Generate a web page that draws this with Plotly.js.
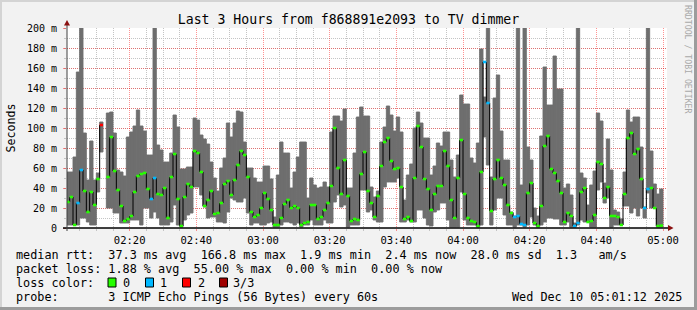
<!DOCTYPE html>
<html>
<head>
<meta charset="utf-8">
<script src="https://cdn.plot.ly/plotly-3.0.1.min.js"></script>
<style>
html,body{margin:0;padding:0;background:#f2f2f2;}
#chart{width:697px;height:310px;}
</style>
</head>
<body>
<div id="chart"></div>
<script>
// ---- data (one value per minute, 02:01 .. 05:00) ----
const medianRtt = [
 26,31,3,25,58,37,16,36,23,49,103,null,51,91,57,38,22,7,9,12,36,52,54,55,39,29,50,34,33,40,
 10,51,74,29,2,31,44,41,77,75,56,22,28,37,14,15,25,44,47,33,48,63,77,73,51,16,11,13,20,35,
 29,18,3,3,10,24,28,20,22,20,3,5,6,23,23,9,11,18,25,42,100,60,34,68,32,7,9,8,54,76,
 37,25,11,32,62,86,90,67,59,60,41,9,11,7,50,102,81,49,39,18,34,42,42,77,62,28,10,50,88,34,
 10,7,6,1.9,56,166,125,17,49,68,50,43,23,15,11,12,4,3,35,45,5,2,22,82,92,59,55,47,35,6,
 15,12,2,5,36,40,6,7,13,66,64,30,41,12,12,11,3,34,90,95,74,79,49,20,39,40,20,2,2.4,null
];
const maxRtt = [
 56,56,71,156,230,95,48,87,48,55,106,null,115,116,95,58,56,52,91,96,102,118,102,97,73,73,230,83,78,66,
 66,75,113,101,59,59,61,61,110,108,93,89,84,66,50,37,60,70,105,91,105,117,116,86,60,60,50,46,46,62,
 62,49,11,53,86,75,75,40,56,71,86,86,30,50,43,40,41,46,41,96,112,112,107,119,40,40,75,111,121,112,
 112,41,31,37,86,101,122,113,97,111,96,28,53,64,100,116,105,90,90,53,62,85,82,96,96,68,51,73,133,124,
 124,70,65,85,179,131,230,51,130,153,97,68,68,16,12,230,43,230,81,68,20,12,92,161,123,123,172,139,139,40,
 44,33,5,230,55,50,23,43,57,115,107,45,89,58,18,16,9,56,118,106,111,111,81,21,230,77,44,34,39,null
];
const minRtt = [
 3,3,3,3,10,10,6,3,3,36,76,null,20,20,15,15,5,5,5,8,8,8,3,20,20,10,16,10,3,3,
 3,6,23,3,1,8,13,15,41,41,33,21,10,11,11,6,6,5,16,30,28,26,26,30,15,3,5,5,3,3,
 5,6,1,1,3,6,6,5,3,5,1,3,3,8,3,3,3,8,5,5,26,33,21,23,1,3,3,3,38,38,
 16,18,8,6,6,41,46,46,46,50,6,6,8,6,6,18,18,10,3,2,16,18,25,25,8,1,1,1,36,8,
 3,3,3,1,3,91,63,3,18,30,30,13,3,3,1,3,3,1,3,11,3,1,3,6,10,10,9,9,3,3,
 6,1,1,3,8,6,6,1,1,38,46,25,30,1,3,3,3,22,22,15,20,12,20,10,35,20,20,1,1,null
];
// lost pings (of 3) per minute
const lostPings = [
 0,0,0,1,1,0,0,0,0,0,2,0,0,0,0,0,0,0,0,0,0,0,0,0,0,1,1,0,0,0,
 0,0,0,0,0,0,0,0,0,0,0,0,0,0,0,0,0,0,0,0,0,0,0,0,0,0,0,0,0,0,
 0,0,0,0,0,0,0,0,0,0,0,0,0,0,0,0,0,0,0,0,0,0,0,0,0,0,0,0,0,0,
 0,0,0,0,0,0,0,0,0,0,0,0,0,0,0,0,0,0,0,0,0,0,0,0,0,0,0,0,0,0,
 0,0,0,0,0,1,1,0,0,0,0,0,0,0,1,1,1,1,0,0,0,0,0,0,0,0,0,0,0,0,
 0,0,1,1,0,0,0,0,0,0,0,0,0,0,0,0,0,0,0,0,0,0,0,1,1,0,0,0,0,0
];
const yTickVals = [0,20,40,60,80,100,120,140,160,180,200];
const yTickText = ['0','20 m','40 m','60 m','80 m','100 m','120 m','140 m','160 m','180 m','200 m'];
const lossLabels = ['0','1','2','3/3'];
const lossColors = ['#26ff00','#00b8ff','#ff0000','#a00000'];
const titleText = 'Last 3 Hours from f868891e2093 to TV dimmer';
const statLines = [
 'median rtt:  37.3 ms avg  166.8 ms max  1.9 ms min  2.4 ms now  28.0 ms sd  1.3   am/s',
 'packet loss: 1.88 % avg  55.00 % max  0.00 % min  0.00 % now'
];
const probeText = 'probe:       3 ICMP Echo Pings (56 Bytes) every 60s';
const stampText = 'Wed Dec 10 05:01:12 2025';

// ---- time grid ----
const STEP = 60000;
const t0 = Date.UTC(2025,11,10,2,1,0);
const rangeStart = Date.UTC(2025,11,10,2,1,12);
const rangeEnd = Date.UTC(2025,11,10,5,1,12);
const n = medianRtt.length;
const centers = [], lefts = [], rights = [];
for (let i=0;i<n;i++){ lefts.push(t0+i*STEP); rights.push(t0+(i+1)*STEP); centers.push(t0+i*STEP+STEP/2); }

const FONT = 'DejaVu Sans Mono, monospace';
const SMOKE = '#6e6e6e';
const traces = [];

// smoke
traces.push({
  type:'bar', x:centers, base:minRtt,
  y:maxRtt.map((v,i)=> v==null||minRtt[i]==null ? null : v-minRtt[i]),
  width:centers.map(()=>STEP),
  marker:{color:SMOKE, line:{width:0.9, color:SMOKE}},
  hoverinfo:'skip', showlegend:false
});

// black vertical connectors between consecutive medians
const vx=[], vy=[];
for (let i=0;i<n-1;i++){
  if (medianRtt[i]!=null && medianRtt[i+1]!=null){
    vx.push(rights[i], rights[i], null);
    vy.push(medianRtt[i], medianRtt[i+1], null);
  }
}
traces.push({type:'scatter', mode:'lines', x:vx, y:vy, line:{color:'#000', width:1}, hoverinfo:'skip', showlegend:false, connectgaps:false});

// coloured median markers by loss
for (let L=0; L<3; L++){
  const sx=[], sy=[];
  for (let i=0;i<n;i++){
    if (medianRtt[i]!=null && lostPings[i]===L){
      sx.push(lefts[i], rights[i], null);
      sy.push(medianRtt[i], medianRtt[i], null);
    }
  }
  traces.push({type:'scatter', mode:'lines', x:sx, y:sy, line:{color:lossColors[L], width:2.6}, hoverinfo:'skip', showlegend:false, connectgaps:false});
}

// pixel helpers for decoration placement
const PL=67, PW=600, PB=228, PH=200;
const px = v => (v-PL)/PW;
const py = v => (PB-v)/PH;
const nb = s => s.replace(/ /g,'\u00a0');

const annotations = [];
const ann = (text, x, y, opts) => annotations.push(Object.assign({
  text:nb(text), x:px(x), y:py(y), xref:'paper', yref:'paper', showarrow:false,
  xanchor:'left', yanchor:'middle', font:{family:FONT, size:11.8, color:'#000'}
}, opts||{}));

ann(statLines[0], 14, 254.5);
ann(statLines[1], 14, 268.5);
ann('loss color:', 14, 282.5);
const boxX = [108,145.5,182.5,219.5];
const labX = [121,158,195.5,231];
lossLabels.forEach((l,k)=> ann(l, labX[k], 282.5));
ann(probeText, 14, 296.5);
ann(stampText, 684, 296.5, {xanchor:'right'});
ann('Seconds', 10.5, 128, {xanchor:'center', textangle:-90, font:{family:FONT, size:11.6, color:'#000'}});
ann('RRDTOOL / TOBI OETIKER', 688, 59, {xanchor:'center', textangle:90, font:{family:FONT, size:8.2, color:'#a9a9a9'}});

const shapes = [];
const rectPx = (x0,y0,x1,y1,fill,line) => shapes.push({type:'rect', xref:'paper', yref:'paper',
  x0:px(x0), x1:px(x1), y0:py(y1), y1:py(y0), fillcolor:fill, line: line||{width:0}, layer:'above'});
// frame shading
rectPx(0,0,697,2,'#d4d4d4');
rectPx(0,0,2,310,'#d4d4d4');
rectPx(694,0,697,310,'#9c9c9c');
rectPx(0,307,697,310,'#9c9c9c');
// legend colour boxes
boxX.forEach((bx,k)=> rectPx(bx,278,bx+8,287,lossColors[k],{color:'#000',width:1}));
// axes lines
shapes.push({type:'line', xref:'paper', yref:'paper', x0:px(63), x1:px(669), y0:py(228), y1:py(228), line:{color:'#000', width:1.3}, layer:'above'});
shapes.push({type:'line', xref:'paper', yref:'paper', x0:px(67), x1:px(67), y0:py(231), y1:py(24), line:{color:'#404040', width:1}, layer:'above'});
// arrows
const pth = pts => 'M'+pts.map(p=>px(p[0])+','+py(p[1])).join(' L')+' Z';
shapes.push({type:'path', xref:'paper', yref:'paper', path:pth([[64,25.5],[70,25.5],[67,20]]), fillcolor:'#8b1010', line:{width:0}, layer:'above'});
shapes.push({type:'path', xref:'paper', yref:'paper', path:pth([[668,225],[668,231],[673.5,228]]), fillcolor:'#8b1010', line:{width:0}, layer:'above'});

const majorGrid = 'rgba(255,0,0,0.42)';
const minorGrid = '#c4c4c4';
const layout = {
  width:697, height:310,
  margin:{l:PL, r:697-PL-PW, t:PB-PH, b:310-PB, pad:0},
  paper_bgcolor:'#f2f2f2', plot_bgcolor:'#ffffff',
  barmode:'overlay', showlegend:false,
  title:{text:titleText, font:{family:FONT, size:13.2, color:'#000'}, x:0.5, xanchor:'center', xref:'container', yref:'container', y:1-19/310, yanchor:'middle'},
  xaxis:{
    type:'date', range:[rangeStart, rangeEnd], tickformat:'%H:%M',
    tick0:Date.UTC(2025,11,10,0,0,0), dtick:20*STEP,
    showgrid:true, gridcolor:majorGrid, griddash:'1px,1px', gridwidth:1,
    ticks:'outside', ticklen:2, tickcolor:majorGrid,
    tickfont:{family:FONT, size:10.5, color:'#000'},
    minor:{dtick:5*STEP, showgrid:true, gridcolor:minorGrid, griddash:'1px,1px', ticks:'outside', ticklen:2, tickcolor:minorGrid},
    showline:false, zeroline:false, fixedrange:true
  },
  yaxis:{
    range:[0,200], tickvals:yTickVals, ticktext:yTickText,
    showgrid:true, gridcolor:majorGrid, griddash:'1px,1px', gridwidth:1,
    ticks:'outside', ticklen:3, tickcolor:majorGrid, ticklabelstandoff:4,
    tickfont:{family:FONT, size:10, color:'#000'},
    minor:{dtick:10, showgrid:true, gridcolor:minorGrid, griddash:'1px,1px', ticks:'outside', ticklen:2, tickcolor:minorGrid},
    showline:false, zeroline:false, fixedrange:true
  },
  annotations, shapes
};
Plotly.newPlot('chart', traces, layout, {staticPlot:true, displayModeBar:false});
</script>
</body>
</html>
